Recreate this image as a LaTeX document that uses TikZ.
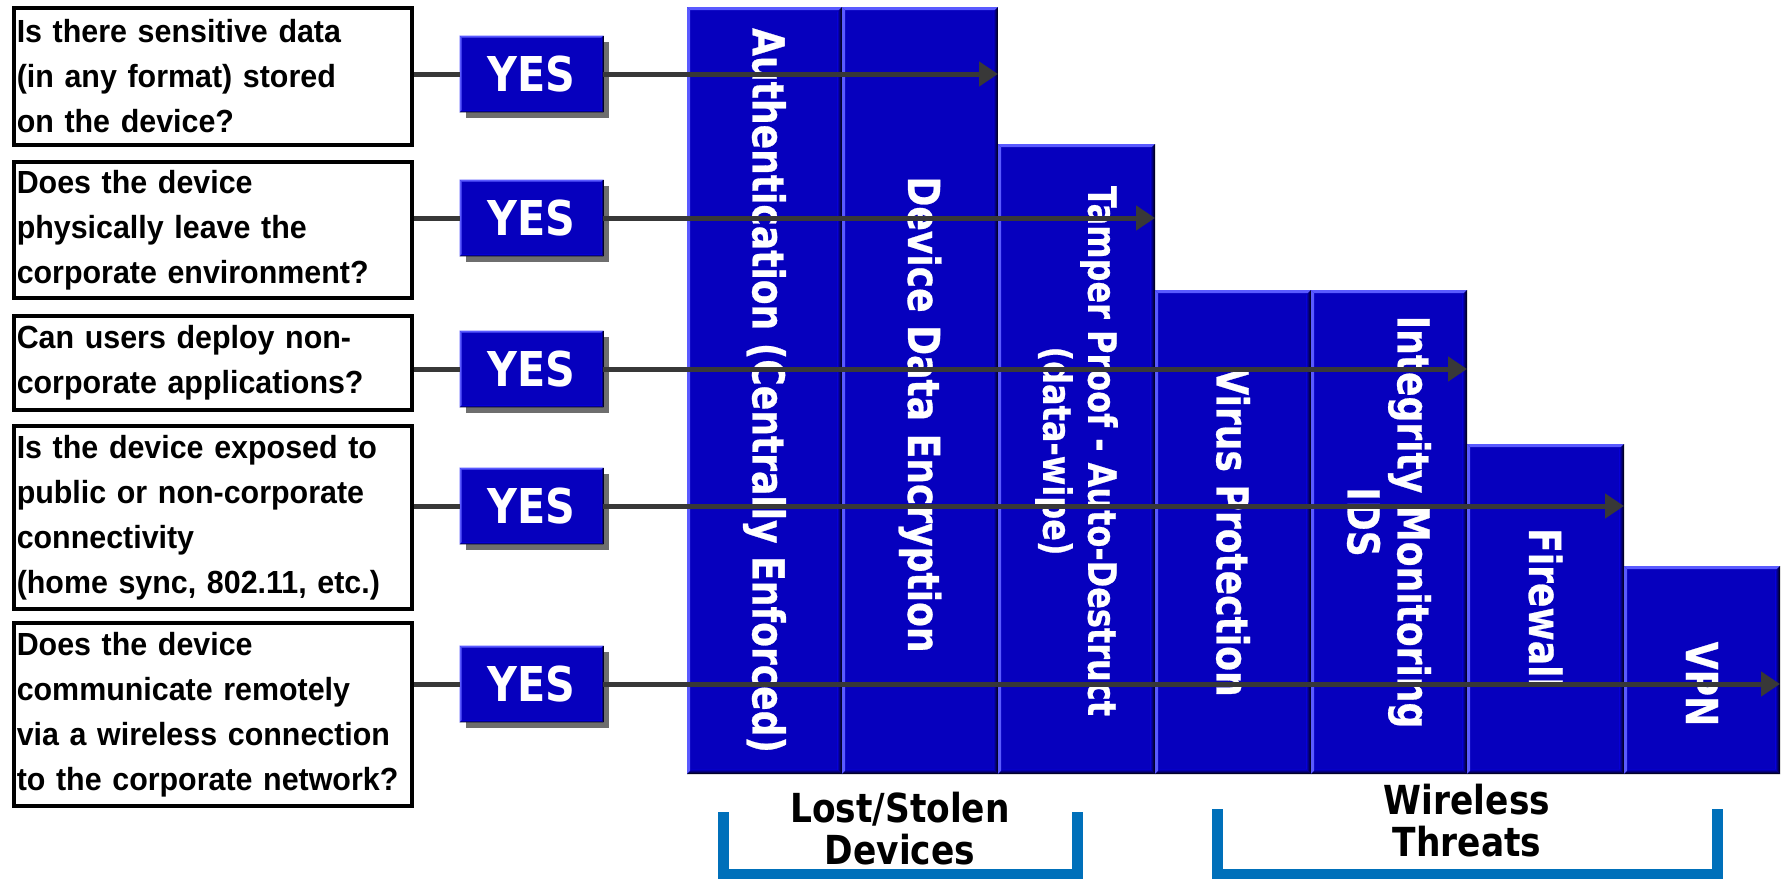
\documentclass[tikz,border=0pt]{standalone}
\usepackage{fontspec}
\setmainfont{Liberation Sans}
\newfontfamily\qfont[FakeStretch=0.95]{Liberation Sans}
\newfontfamily\colfont[FakeStretch=0.82,FakeBold=0.6]{DejaVu Sans}
\newfontfamily\lblfont[FakeStretch=0.86]{DejaVu Sans}
\usetikzlibrary{arrows.meta,shadows}
\definecolor{colblue}{RGB}{6,0,190}
\definecolor{bevlight}{RGB}{90,90,255}
\definecolor{linegray}{RGB}{56,56,56}
\definecolor{brblue}{RGB}{0,112,186}
\definecolor{shadowgray}{RGB}{110,110,110}
\newcommand\bevelize[3]{%
  \fill[bevlight] (#1.north west) -- (#1.north east) -- ([shift={(-#2,-#2)}]#1.north east) -- ([shift={(#2,-#2)}]#1.north west) -- cycle;
  \fill[bevlight] (#1.north west) -- ([shift={(#2,-#2)}]#1.north west) -- ([shift={(#2,#2)}]#1.south west) -- (#1.south west) -- cycle;
  \shade[left color=colblue, right color=black] (#1.north east) -- (#1.south east) -- ([shift={(-#3,#3)}]#1.south east) -- ([shift={(-#3,-#3)}]#1.north east) -- cycle;
  \shade[top color=colblue, bottom color=black] (#1.south west) -- (#1.south east) -- ([shift={(-#3,#3)}]#1.south east) -- ([shift={(#3,#3)}]#1.south west) -- cycle;
}
\tikzset{
  qbox/.style={draw=black, line width=1.75pt, fill=white, rectangle, inner xsep=1.5pt, inner ysep=0pt,
    text width=196pt, minimum width=199pt, align=left, anchor=north west,
    font=\qfont\bfseries\fontsize{16}{22.5}\selectfont},
  yesbox/.style={rectangle, fill=colblue, minimum width=71.5pt, minimum height=38pt, inner sep=0pt,
    text=white, font=\lblfont\bfseries\fontsize{24}{28}\selectfont,
    drop shadow={shadow xshift=3pt, shadow yshift=-3pt, fill=shadowgray, opacity=1}},
  colbox/.style={rectangle, fill=colblue, inner sep=0pt, outer sep=0pt, anchor=north west},
  coltext/.style={rotate=-90, text=white, align=center, inner sep=0pt,
    font=\colfont\bfseries\fontsize{22}{25}\selectfont},
  conn/.style={draw=linegray, line width=2.5pt},
  arr/.style={conn, -{Triangle[length=9.5pt,width=12pt]}},
  bracket/.style={draw=brblue, line width=5.5pt, line join=miter},
  lbl/.style={align=center, inner sep=0pt, font=\lblfont\bfseries\fontsize{20}{21}\selectfont},
}
\begin{document}
\begin{tikzpicture}[x=0.5pt,y=-0.5pt]
\useasboundingbox (0,0) rectangle (1785,879);
% columns
\node[colbox, minimum width=77.5pt, minimum height=383.5pt] (c1) at (687,7) {};
\node[colbox, minimum width=78pt, minimum height=383.5pt] (c2) at (842,7) {};
\node[colbox, minimum width=78.5pt, minimum height=315pt] (c3) at (998,144) {};
\node[colbox, minimum width=78pt, minimum height=242pt] (c4) at (1155,290) {};
\node[colbox, minimum width=78pt, minimum height=242pt] (c5) at (1311,290) {};
\node[colbox, minimum width=78.5pt, minimum height=165pt] (c6) at (1467,444) {};
\node[colbox, minimum width=78pt, minimum height=104pt] (c7) at (1624,566) {};
\foreach \i in {1,...,7} {\bevelize{c\i}{1.6pt}{2.2pt}}
% column texts
\node[coltext] (t1) at (c1.center) {Authentication (Centrally Enforced)};
\node[coltext] (t2) at ([yshift=-12pt]c2.center) {Device Data Encryption};
\node[coltext, font=\colfont\bfseries\fontsize{19.5}{22.5}\selectfont] (t3) at ([yshift=4pt]c3.center) {Tamper Proof - Auto-Destruct\\(data-wipe)};
\node[coltext] (t4) at (c4.center) {Virus Protection};
\node[coltext] (t5) at ([yshift=5pt]c5.center) {Integrity Monitoring\\IDS};
\node[coltext] (t6) at (c6.center) {Firewall};
\node[coltext] (t7) at ([yshift=-7pt]c7.center) {VPN};
% question boxes
\node[qbox, minimum height=68.5pt] (q1) at (12,6) {Is there sensitive data\\(in any format) stored\\on the device?};
\node[qbox, minimum height=68pt] (q2) at (12,160) {Does the device\\physically leave the\\corporate environment?};
\node[qbox, minimum height=47pt] (q3) at (12,314) {Can users deploy non-\\corporate applications?};
\node[qbox, minimum height=91.5pt] (q4) at (12,424) {Is the device exposed to\\public or non-corporate\\connectivity\\(home sync, 802.11, etc.)};
\node[qbox, minimum height=91.5pt] (q5) at (12,621) {Does the device\\communicate remotely\\via a wireless connection\\to the corporate network?};
% YES boxes
\node[yesbox] (y1) at (531.5,74) {YES};
\node[yesbox] (y2) at (531.5,218) {YES};
\node[yesbox] (y3) at (531.5,369) {YES};
\node[yesbox] (y4) at (531.5,506) {YES};
\node[yesbox] (y5) at (531.5,684) {YES};
\foreach \i in {1,...,5} {\bevelize{y\i}{1pt}{1pt}}
% connectors
\coordinate (e1) at (c2.east |- y1.east);
\coordinate (e2) at (c3.east |- y2.east);
\coordinate (e3) at (c5.east |- y3.east);
\coordinate (e4) at (c6.east |- y4.east);
\coordinate (e5) at (c7.east |- y5.east);
\foreach \i in {1,...,5} {
  \draw[conn] (q\i.east |- y\i.west) -- (y\i.west);
  \draw[arr] (y\i.east) -- (e\i);
}
% brackets and labels
\draw[bracket] (723,812) -- (723,874) -- (1077,874) -- (1077,812);
\draw[bracket] (1217,809) -- (1217,874) -- (1717,874) -- (1717,809);
\node[lbl] (l1) at (900,829) {Lost/Stolen\\Devices};
\node[lbl] (l2) at (1467,821) {Wireless\\Threats};
\end{tikzpicture}
\end{document}
